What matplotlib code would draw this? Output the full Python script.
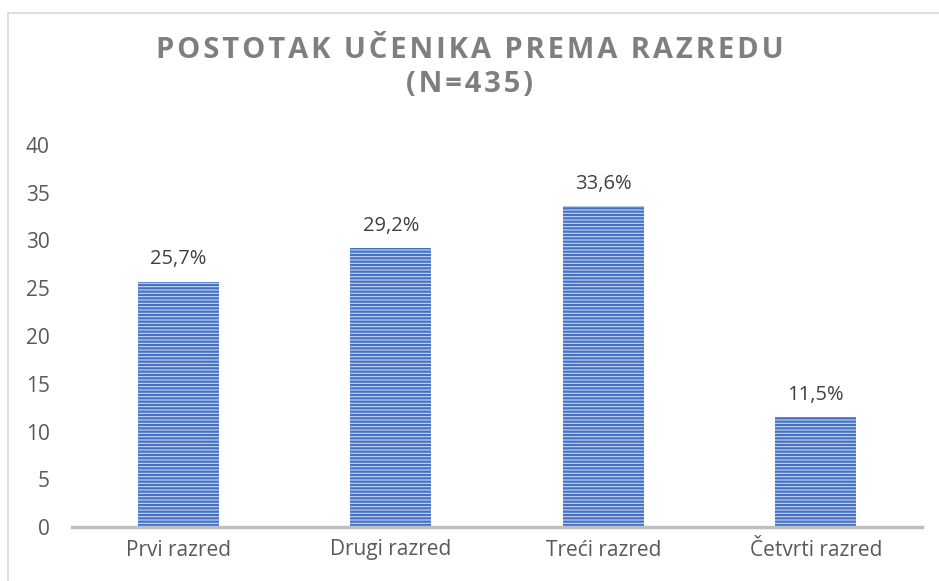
import matplotlib.pyplot as plt
from matplotlib.lines import Line2D

categories = ["Prvi razred", "Drugi razred", "Treći razred", "Četvrti razred"]
values = [25.7, 29.2, 33.6, 11.5]
labels = ["25,7%", "29,2%", "33,6%", "11,5%"]
yticks = [0, 5, 10, 15, 20, 25, 30, 35, 40]

plt.rcParams['font.family'] = ['Open Sans', 'DejaVu Sans']
plt.rcParams['hatch.color'] = '#4472C4'
plt.rcParams['hatch.linewidth'] = 1.6

fig = plt.figure(figsize=(9.39, 5.81), dpi=100)
ax = fig.add_axes([72/939, 1-527/581, 850/939, 382/581])

x = range(len(categories))
bars = ax.bar(x, values, width=0.38, color='#c9d6ef', edgecolor='#4472C4',
              linewidth=0, hatch='-----')
for b, lab in zip(bars, labels):
    ax.text(b.get_x() + b.get_width()/2, b.get_height() + 1.3, lab,
            ha='center', va='bottom', fontsize=14.5, color='#404040')

ax.set_xlim(-0.5, 3.5)
ax.set_ylim(0, 40)
ax.set_yticks(yticks)
ax.set_xticks(list(x))
ax.set_xticklabels(categories)
ax.tick_params(length=0, labelsize=15, colors='#595959')
ax.tick_params(axis='y', pad=16)
ax.tick_params(axis='x', pad=9)
for s in ['top', 'right', 'left']:
    ax.spines[s].set_visible(False)
ax.spines['bottom'].set_color('#bfbfbf')
ax.spines['bottom'].set_linewidth(2.5)

title = "\u200a".join("POSTOTAK UČENIKA PREMA RAZREDU") + "\n" + "\u200a".join("(N=435)")
fig.text(0.5, 1-36/581, title, ha='center', va='top', fontsize=21,
         fontweight='bold', color='#7f7f7f', linespacing=1.25)

# chart border
fig.add_artist(Line2D([7.5/939, 7.5/939], [0, 1-13/581], color='#d9d9d9', lw=1.2))
fig.add_artist(Line2D([7.5/939, 1], [1-13/581, 1-13/581], color='#d9d9d9', lw=1.2))

fig.savefig('out.png', dpi=100)
